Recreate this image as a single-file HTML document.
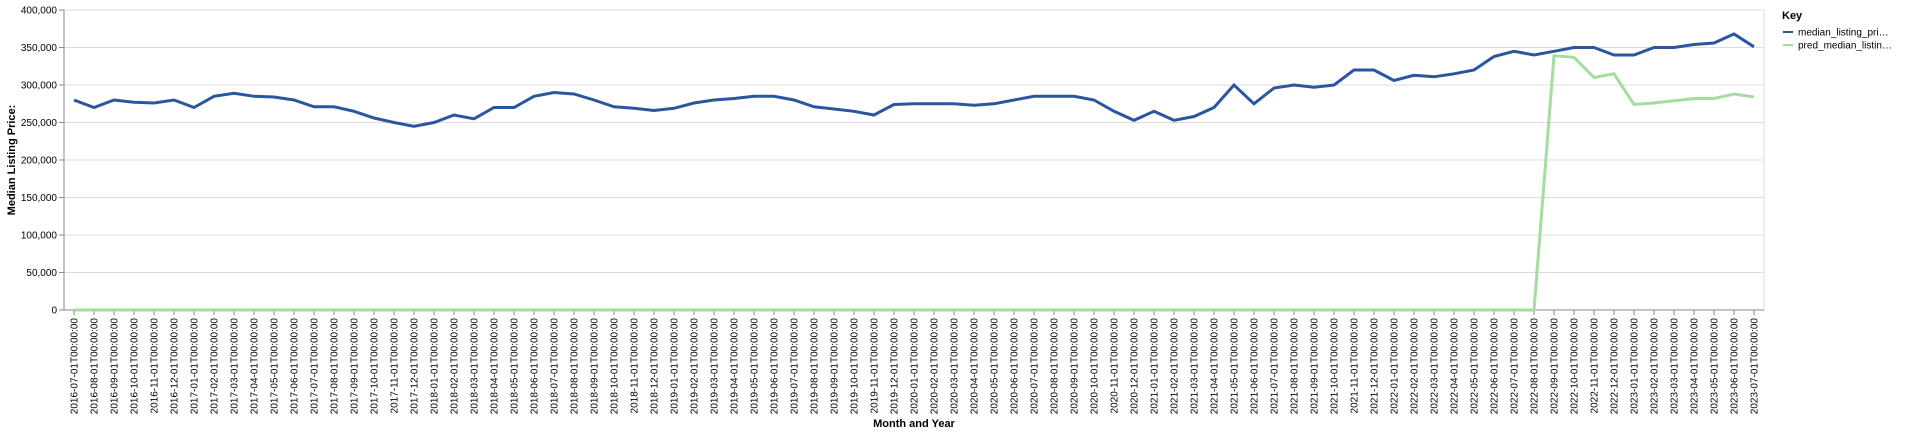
<!DOCTYPE html>
<html><head><meta charset="utf-8"><style>
html,body{margin:0;padding:0;background:#fff;}
svg{display:block;font-family:"Liberation Sans",sans-serif;}
</style></head><body>
<svg id="chart" width="1920" height="434" viewBox="0 0 1920 434"></svg>
<script>
const months = [];
for (let y = 2016, m = 7; !(y === 2023 && m === 8); ) { months.push(y + '-' + String(m).padStart(2,'0') + '-01T00:00:00'); m++; if (m > 12) { m = 1; y++; } }
const actualValues = [280,270,280,277,276,280,270,285,289,285,284,280,271,271,265,256,250,245,250,260,255,270,270,285,290,288,280,271,269,266,269,276,280,282,285,285,280,271,268,265,260,274,275,275,275,273,275,280,285,285,285,280,265,253,265,253,258,270,300,275,296,300,297,300,320,320,306,313,311,315,320,338,345,340,345,350,350,340,340,350,350,354,356,368,351];
const predValues = [0,0,0,0,0,0,0,0,0,0,0,0,0,0,0,0,0,0,0,0,0,0,0,0,0,0,0,0,0,0,0,0,0,0,0,0,0,0,0,0,0,0,0,0,0,0,0,0,0,0,0,0,0,0,0,0,0,0,0,0,0,0,0,0,0,0,0,0,0,0,0,0,0,0,339,337,310,315,274,276,279,282,282,288,284];
const yTicks = [0,50,100,150,200,250,300,350,400];
const seriesNames = ['median_listing_pri…','pred_median_listin…'];

const NS = 'http://www.w3.org/2000/svg';
const svg = document.getElementById('chart');
const L = 64, R = 1764, T = 10, B = 310;
const xs = i => 74 + i * (1680 / (months.length - 1));
const ys = v => B - v / 400 * (B - T);
function mk(tag, attrs, parent) { const e = document.createElementNS(NS, tag); for (const k in attrs) e.setAttribute(k, attrs[k]); (parent || svg).appendChild(e); return e; }

// gridlines & y ticks
yTicks.forEach(v => {
  const g = mk('line', {x1: L, x2: R, y1: ys(v), y2: ys(v), stroke: '#ddd', 'stroke-width': 1});
  
  
  mk('line', {x1: L - 5, x2: L, y1: ys(v), y2: ys(v), stroke: '#888'});
  const t = mk('text', {x: L - 7, y: ys(v) + 3.5, 'text-anchor': 'end', 'font-size': 10, fill: '#000'});
  t.textContent = v === 0 ? '0' : (v + ',000');
  
  
});
mk('line', {x1: R, x2: R, y1: T, y2: B, stroke: '#ddd'});
const yAxis = mk('line', {x1: L, x2: L, y1: T, y2: B, stroke: '#888'});


const xAxis = mk('line', {x1: L, x2: R, y1: B, y2: B, stroke: '#888'});



// x ticks
months.forEach((m, i) => {
  mk('line', {x1: xs(i), x2: xs(i), y1: B, y2: B + 5, stroke: '#888'});
  const t = mk('text', {transform: `translate(${xs(i) + 3.5},${B + 8}) rotate(-90)`, 'text-anchor': 'end', 'font-size': 10, fill: '#000'});
  t.textContent = m;
  
  
});

// series
function line(vals, color, name) {
  const d = vals.map((v, i) => (i ? 'L' : 'M') + xs(i).toFixed(1) + ',' + ys(v).toFixed(1)).join('');
  const p = mk('path', {d: d, fill: 'none', stroke: color, 'stroke-width': 3, 'stroke-linejoin': 'miter'});
  
  
}
line(predValues, '#a5dc9f', 'pred-median-listing-price-line');
line(actualValues, '#2a56a0', 'median-listing-price-line');

// axis titles
const yt = mk('text', {transform: 'translate(15,160) rotate(-90)', 'text-anchor': 'middle', 'font-size': 11, 'font-weight': 'bold'});
yt.textContent = 'Median Listing Price:';


const xt = mk('text', {x: (L + R) / 2, y: 427, 'text-anchor': 'middle', 'font-size': 11, 'font-weight': 'bold'});
xt.textContent = 'Month and Year';



// legend
const lg = mk('g', {});


const kt = mk('text', {x: 1782, y: 19, 'font-size': 11, 'font-weight': 'bold'}, lg);
kt.textContent = 'Key';


['#2a56a0', '#a5dc9f'].forEach((c, i) => {
  const y = 32 + i * 13;
  const e = mk('g', {}, lg);
  
  
  mk('line', {x1: 1783, x2: 1793, y1: y, y2: y, stroke: c, 'stroke-width': 2}, e);
  const t = mk('text', {x: 1798, y: y + 3.5, 'font-size': 10}, e);
  t.textContent = seriesNames[i];
});
</script>
</body></html>
